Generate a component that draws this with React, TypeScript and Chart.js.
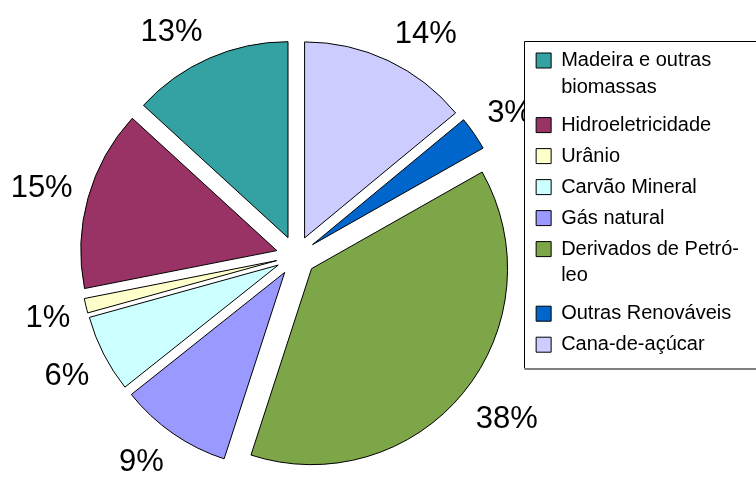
import React, { useEffect, useRef } from 'react';
import { Chart, ArcElement, PieController, registerables } from 'chart.js';

const FONT = '"Liberation Sans", Arial, Helvetica, sans-serif';

// Data in clockwise drawing order, starting at 12 o'clock
const categories: (string | string[])[] = [
  'Cana-de-açúcar',
  'Outras Renováveis',
  ['Derivados de Petró-', 'leo'],
  'Gás natural',
  'Carvão Mineral',
  'Urânio',
  'Hidroeletricidade',
  ['Madeira e outras', 'biomassas'],
];
const shares = [14.0, 2.8, 38.2, 9.3, 6.4, 1.2, 14.9, 13.2];
const sliceColors = ['#CCCCFF', '#0066CC', '#7DA648', '#9999FF', '#CCFFFF', '#FFFFCC', '#993366', '#34A2A2'];

const EXPLODE = 20;
const PIE_RADIUS = 196;
const LABEL_GAP = 16;

class ExplodedArc extends ArcElement {
  static id = 'explodedArc';
  draw(ctx: CanvasRenderingContext2D) {
    const a = this as any;
    const mid = (a.startAngle + a.endAngle) / 2;
    ctx.save();
    ctx.translate(Math.cos(mid) * EXPLODE, Math.sin(mid) * EXPLODE);
    super.draw(ctx);
    ctx.restore();
  }
}

class ExplodedPieController extends PieController {
  static id = 'explodedPie';
  static defaults = { dataElementType: 'explodedArc' };
}

Chart.register(...registerables, ExplodedArc, ExplodedPieController);
Chart.defaults.font.family = FONT;

function legendFrame(chart: any) {
  const lg = chart.legend;
  if (!lg || !lg.legendHitBoxes || !lg.legendHitBoxes.length) return null;
  const hb = lg.legendHitBoxes;
  const first = hb[0];
  const last = hb[hb.length - 1];
  const x = Math.round(lg.left) - 0.5;
  const y = Math.round(first.top - 9.5) + 0.5;
  const bottom = Math.round(last.top + last.height + 13.5) + 0.5;
  return { x, y, w: chart.width + 10 - x, h: bottom - y };
}

const legendFramePlugin = {
  id: 'legendFrame',
  afterDraw(chart: any) {
    const f = legendFrame(chart);
    if (!f) return;
    const ctx = chart.ctx;
    ctx.save();
    ctx.lineWidth = 1;
    ctx.strokeStyle = '#000';
    ctx.beginPath();
    ctx.moveTo(f.x + f.w, f.y);
    ctx.lineTo(f.x, f.y);
    ctx.lineTo(f.x, f.y + f.h);
    ctx.stroke();
    ctx.strokeStyle = '#808080';
    ctx.lineWidth = 2;
    ctx.beginPath();
    ctx.moveTo(f.x, f.y + f.h + 0.5);
    ctx.lineTo(f.x + f.w, f.y + f.h + 0.5);
    ctx.stroke();
    ctx.restore();
  },
};

const clamp1 = (v: number) => Math.max(-1, Math.min(1, v));

const percentLabelPlugin = {
  id: 'percentLabels',
  afterDatasetsDraw(chart: any) {
    const meta = chart.getDatasetMeta(0);
    const vals = chart.data.datasets[0].data as number[];
    const total = vals.reduce((s, v) => s + v, 0);
    const ctx = chart.ctx as CanvasRenderingContext2D;
    const f = legendFrame(chart);
    ctx.save();
    if (f) {
      ctx.beginPath();
      ctx.rect(0, 0, chart.width, chart.height);
      ctx.rect(f.x, f.y, f.w, f.h);
      ctx.clip('evenodd');
    }
    ctx.font = `31px ${FONT}`;
    ctx.fillStyle = '#000';
    ctx.textAlign = 'center';
    ctx.textBaseline = 'alphabetic';
    const h = 22;
    meta.data.forEach((el: any, i: number) => {
      const mid = (el.startAngle + el.endAngle) / 2;
      const c = Math.cos(mid);
      const s = Math.sin(mid);
      const r0 = el.outerRadius + EXPLODE + LABEL_GAP;
      const text = Math.round((vals[i] / total) * 100) + '%';
      const w = ctx.measureText(text).width;
      const cx = el.x + c * r0 + (clamp1(c * 2.5) * w) / 2;
      const cy = el.y + s * r0 + clamp1(s * 2) * h * 0.625;
      ctx.fillText(text, cx, cy + h / 2);
    });
    ctx.restore();
  },
};

export default function App() {
  const ref = useRef<HTMLCanvasElement>(null);
  useEffect(() => {
    if (!ref.current) return;
    const chart = new Chart(ref.current, {
      type: 'explodedPie' as any,
      data: {
        labels: categories as any,
        datasets: [
          {
            data: shares,
            backgroundColor: sliceColors,
            borderColor: '#000',
            borderWidth: 1,
            radius: PIE_RADIUS,
            offset: 0,
            hoverOffset: 0,
            clip: false,
          } as any,
        ],
      },
      options: {
        responsive: false,
        animation: false,
        events: [],
        rotation: 0,
        layout: { padding: { top: 39.5, bottom: 5.5, left: 67, right: 7 } },
        plugins: {
          legend: {
            position: 'right',
            align: 'start',
            reverse: true,
            labels: {
              boxWidth: 15,
              boxHeight: 15,
              padding: 11,
              color: '#000',
              font: { family: FONT, size: 20, lineHeight: 1.34 },
            },
          },
          tooltip: { enabled: false },
        },
      } as any,
      plugins: [legendFramePlugin, percentLabelPlugin],
    });
    return () => chart.destroy();
  }, []);
  return (
    <div style={{ position: 'fixed', left: 0, top: 0, width: 756, height: 478, background: '#fff' }}>
      <canvas ref={ref} width={756} height={478} style={{ display: 'block', width: 756, height: 478 }} />
    </div>
  );
}
